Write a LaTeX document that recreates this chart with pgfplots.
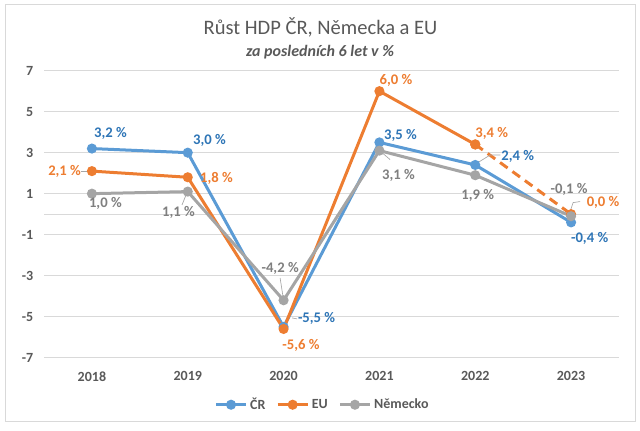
\documentclass[border=0pt]{standalone}
\usepackage{pgfplots}
\pgfplotsset{compat=1.18}
\usepackage{pgfplotstable}
\usepackage{fontspec}
\setmainfont{Carlito}
\definecolor{cblue}{RGB}{91,155,213}
\definecolor{corange}{RGB}{237,125,49}
\definecolor{cgray}{RGB}{165,165,165}
\definecolor{lblue}{RGB}{46,117,182}
\definecolor{lorange}{RGB}{237,125,49}
\definecolor{lgray}{RGB}{127,127,127}
\definecolor{txt}{RGB}{89,89,89}
\definecolor{gridc}{RGB}{217,217,217}
\definecolor{leader}{RGB}{166,166,166}

\pgfplotstableread{
x y dx dy
0 3.2 13.9 11.7
1 3.0 16.3 9.5
2 -5.5 24.75 6
3 3.5 15.75 5.6
4 2.4 31.8 6.75
5 -0.4 13.9 -11.7
}\crdata
\pgfplotstableread{
x y dx dy
0 2.1 -20.5 0
1 1.8 21.6 -0.5
2 -5.6 13.1 -12
3 6.0 12.4 8.25
4 3.4 12.4 7.9
5 0.0 24 9
}\eudata
\pgfplotstableread{
x y dx dy
0 1.0 10.1 -7.5
1 1.1 -6.9 -15.3
2 -4.2 -2.6 24
3 3.1 14.25 -18.75
4 1.9 1.9 -15.5
5 -0.1 -1.5 20
}\dedata

\begin{document}
\begin{tikzpicture}
\path[use as bounding box] (0,0) rectangle (480pt,323.25pt);
\draw[gridc, line width=0.75pt] (3.75pt,6.75pt) rectangle (476.25pt,319.5pt);
\node[anchor=base, text=txt, font=\fontsize{15.4}{18}\selectfont] at (240.4pt,297pt) {Růst HDP ČR, Německa a EU};
\node[anchor=base, text=txt, font=\bfseries\itshape\fontsize{12}{14}\selectfont] at (240pt,280.5pt) {za posledních 6 let v \%};
\begin{axis}[
  at={(33pt,55pt)}, anchor=south west, scale only axis,
  width=431.25pt, height=215.25pt,
  xmin=-0.5, xmax=5.5, ymin=-7, ymax=7,
  xtick={0,...,5}, xticklabels={2018,2019,2020,2021,2022,2023},
  ytick={-7,-5,...,7},
  extra y ticks={0}, extra y tick labels={}, extra y tick style={grid=major},
  ymajorgrids, major grid style={draw=gridc, line width=0.75pt},
  axis line style={draw=none}, major tick length=0pt,
  tick label style={font=\bfseries\fontsize{10.5}{12}\selectfont, text=txt},
  /pgf/number format/assume math mode=true,
  yticklabel style={xshift=-4.5pt},
  xticklabel style={yshift=-7pt},
  clip=false,
  legend style={at={(0.485,-0.164)}, anchor=center, legend columns=-1,
    draw=none, fill=none, font=\bfseries\fontsize{10.5}{12}\selectfont, text=txt,
    /tikz/every even column/.append style={column sep=6pt}},
  legend image code/.code={\draw[mark repeat=2, mark phase=2] plot coordinates {(0pt,0pt) (11.25pt,0pt) (22.5pt,0pt)};},
  every axis plot/.append style={line width=2.25pt, mark=*, mark size=2.6pt, mark options={solid}},
  lab/.style={nodes near coords={\pgfmathprintnumber[fixed,fixed zerofill,precision=1,use comma,assume math mode=true]{\pgfplotspointmeta}~\%},
    point meta=y,
    visualization depends on={\thisrow{dx}\as\dx},
    visualization depends on={\thisrow{dy}\as\dy},
    nodes near coords style={anchor=center, xshift=\dx pt, yshift=\dy pt, inner sep=0pt,
      font=\bfseries\fontsize{11}{13}\selectfont, text=#1}},
]
\addplot[cblue, lab=lblue] table[x=x,y=y] {\crdata};
\addlegendentry{ČR}
\addplot[corange, lab=lorange, restrict x to domain=0:4] table[x=x,y=y] {\eudata};
\addlegendentry{EU}
\addplot[corange, dash pattern=on 7pt off 4.5pt, restrict x to domain=4:5, forget plot] table[x=x,y=y] {\eudata};
\addplot[draw=none, mark=none, lab=lorange, restrict x to domain=5:5, forget plot] table[x=x,y=y] {\eudata};
\addplot[cgray, lab=lgray] table[x=x,y=y] {\dedata};
\addlegendentry{Německo}
\draw[leader, line width=0.5pt] (axis cs:0,2.1) ++(-8.25pt,0pt) -- ++(5pt,0pt);
\draw[leader, line width=0.5pt] (axis cs:1,1.1) ++(-1.3pt,-2.5pt) -- ++(-3pt,-7.5pt);
\draw[leader, line width=0.5pt] (axis cs:2,-4.2) ++(-0.4pt,2.5pt) -- ++(-2.2pt,14.2pt);
\draw[leader, line width=0.5pt] (axis cs:2,-5.5) ++(6.4pt,6.75pt) -- ++(3.7pt,-0.75pt);
\draw[leader, line width=0.5pt] (axis cs:3,3.1) ++(2.8pt,-2.25pt) -- ++(5.2pt,-4.5pt);
\draw[leader, line width=0.5pt] (axis cs:4,2.4) ++(1.5pt,1.5pt) -- ++(9.75pt,6pt) -- ++(7.5pt,0pt);
\draw[leader, line width=0.5pt] (axis cs:5,-0.1) ++(-0.75pt,3.45pt) -- ++(2.25pt,6.75pt) -- ++(5.25pt,0.8pt);
\end{axis}
\end{tikzpicture}
\end{document}
